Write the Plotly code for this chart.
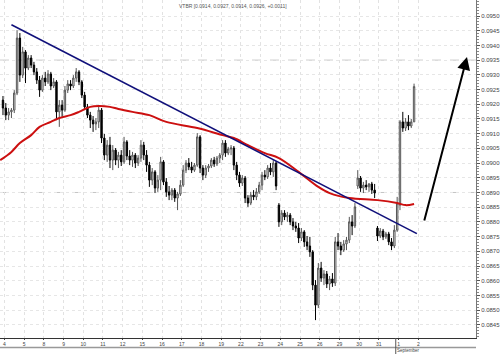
import plotly.graph_objects as go

# Prices in units of 0.00001 (e.g. 9214 -> 0.09214), hourly candles, 7 per trading day
opens = [9214,9187,9163,9174,9180,9238,9425, 9299,9378,9323,9357,9333,9310,9282,
         9248,9289,9276,9303,9262,9276,9174, 9197,9180,9248,9269,9262,9289,9310,
         9276,9231,9191,9163,9146,9133,9140, 9180,9085,9027,9061,9010,9044,9010,
         9027,9004,9072,9024,9010,9027,9000, 9017,9061,9027,8993,8942,8970,8915,
         8942,9004,8936,8902,8891,8908,8881, 8895,8925,8976,9000,8987,8976,8993,
         9089,8983,8959,8983,8990,9010,8997, 9017,9027,9068,9034,9048,9051,8993,
         8959,8932,8949,8881,8864,8891,8885, 8902,8925,8959,8953,8983,8970,9000,
         8857,8800,8830,8817,8823,8800,8786, 8779,8745,8766,8732,8718,8698,8585,
         8517,8643,8609,8623,8589,8606,8592, 8732,8718,8704,8725,8738,8800,8786,
         8922,8949,8915,8925,8919,8929,8908, 8779,8752,8769,8749,8759,8732,8718,
         8772,8857,9140,9119,9140,9126,9140]
highs = [9228,9204,9187,9187,9248,9452,9442, 9395,9384,9367,9367,9344,9323,9296,
         9299,9310,9316,9310,9289,9282,9214, 9214,9262,9282,9282,9299,9323,9316,
         9282,9242,9201,9174,9160,9153,9194, 9187,9099,9078,9089,9061,9051,9038,
         9044,9089,9078,9044,9038,9034,9027, 9078,9072,9044,9004,8983,8976,8959,
         9021,9010,8949,8922,8915,8915,8902, 8942,8993,9010,9017,9004,9000,9102,
         9095,8993,8993,8997,9017,9021,9024, 9034,9078,9078,9055,9061,9058,9004,
         8970,8959,8956,8891,8902,8908,8915, 8936,8970,8976,8993,9000,9010,9007,
         8864,8840,8840,8834,8830,8813,8800, 8796,8779,8772,8752,8749,8704,8602,
         8660,8664,8636,8633,8616,8626,8749, 8762,8732,8738,8749,8817,8823,8864,
         8976,8956,8936,8942,8932,8936,8929, 8786,8779,8776,8766,8766,8745,8789,
         8885,9146,9174,9153,9163,9150,9270]
lows = [9163,9146,9146,9153,9170,9231,9276, 9289,9272,9316,9323,9299,9269,9225,
        9242,9262,9269,9248,9255,9146,9123, 9157,9174,9238,9248,9255,9276,9265,
        9221,9180,9153,9119,9106,9112,9119, 9068,9010,9004,8983,8976,8993,8983,
        8990,8997,9010,8993,8987,8983,8990, 9004,9010,8970,8919,8925,8898,8902,
        8908,8925,8885,8874,8874,8868,8840, 8888,8919,8966,8976,8966,8970,8987,
        8966,8942,8949,8970,8983,8987,8990, 9000,9010,9021,9027,9027,8976,8942,
        8919,8922,8864,8851,8857,8874,8874, 8895,8908,8942,8946,8959,8953,8908,
        8783,8789,8806,8800,8789,8772,8766, 8728,8735,8715,8704,8681,8568,8466,
        8507,8596,8585,8575,8568,8579,8582, 8704,8687,8698,8704,8728,8755,8779,
        8912,8902,8898,8908,8902,8895,8881, 8735,8745,8738,8742,8721,8704,8711,
        8766,8840,9106,9109,9112,9119,9140]
closes = [9187,9163,9174,9180,9238,9425,9299, 9378,9323,9357,9333,9310,9282,9248,
          9289,9276,9303,9262,9276,9174,9197, 9180,9248,9269,9262,9289,9310,9276,
          9231,9191,9163,9146,9133,9140,9180, 9085,9027,9061,9010,9044,9010,9027,
          9004,9072,9024,9010,9027,9000,9017, 9061,9027,8993,8942,8970,8915,8942,
          9004,8936,8902,8891,8908,8881,8895, 8925,8976,9000,8987,8976,8993,9089,
          8983,8959,8983,8990,9010,8997,9017, 9027,9068,9034,9048,9051,8993,8959,
          8932,8949,8881,8864,8891,8885,8902, 8925,8959,8953,8983,8970,9000,8922,
          8800,8830,8817,8823,8800,8786,8779, 8745,8766,8732,8718,8698,8585,8517,
          8643,8609,8623,8589,8606,8592,8732, 8718,8704,8725,8738,8800,8786,8851,
          8949,8915,8925,8919,8929,8908,8898, 8752,8769,8749,8759,8732,8718,8772,
          8864,9140,9119,9140,9126,9140,9260]

# moving average (red) read at selected candle indices
ma_idx = [-1, 3, 6, 10, 13, 17, 20, 24, 27, 31, 34, 38, 41, 46, 52, 58, 69, 78, 82,
          87, 93, 98, 105, 112, 116, 123, 133, 140, 143, 146]
ma_val = [9010, 9038, 9068, 9095, 9123, 9140, 9153, 9163, 9174, 9191, 9194, 9191, 9184,
          9174, 9163, 9140, 9119, 9095, 9085, 9061, 9034, 9017, 8970, 8919, 8898, 8881,
          8874, 8864, 8857, 8861]

# trend line (blue) end points
trend_idx = [3, 147]
trend_val = [9470, 8760]

# arrow (tail -> head)
arrow_idx = [149.5, 164.8]
arrow_val = [8800, 9361]

days = ["4", "5", "8", "9", "10", "11", "12", "15", "16", "17", "18", "19", "22",
        "23", "24", "25", "26", "29", "30", "31", "1", "2"]
per_day = 7
title_text = "VTBR [0.0914, 0.0927, 0.0914, 0.0926, +0.0011]"
month_text = "September"

S = 1e-5
x = list(range(len(closes)))

fig = go.Figure()
fig.add_trace(go.Candlestick(
    x=x, open=[v * S for v in opens], high=[v * S for v in highs],
    low=[v * S for v in lows], close=[v * S for v in closes],
    increasing=dict(fillcolor="white", line=dict(color="#555555", width=1)),
    decreasing=dict(fillcolor="black", line=dict(color="black", width=1)),
    whiskerwidth=0, showlegend=False, hoverinfo="skip"))
fig.add_trace(go.Scatter(x=ma_idx, y=[v * S for v in ma_val], mode="lines",
                         line=dict(color="#cc1010", width=2, shape="spline"),
                         showlegend=False, hoverinfo="skip"))
fig.add_trace(go.Scatter(x=trend_idx, y=[v * S for v in trend_val], mode="lines",
                         line=dict(color="#10107a", width=1.6),
                         showlegend=False, hoverinfo="skip"))

fig.add_annotation(x=arrow_idx[1], y=arrow_val[1] * S, ax=arrow_idx[0], ay=arrow_val[0] * S,
                   xref="x", yref="y", axref="x", ayref="y", showarrow=True,
                   arrowhead=2, arrowsize=1.3, arrowwidth=2, arrowcolor="black", text="")

fig.add_annotation(x=0.49, y=0.997, xref="paper", yref="paper", text=title_text,
                   showarrow=False, xanchor="center", yanchor="top",
                   font=dict(size=5, color="#555555", family="Liberation Sans"))

PLOT_H = 338
# lower band line and month label
fig.add_shape(type="line", xref="paper", yref="paper", x0=0, x1=1,
              y0=-9.5 / PLOT_H, y1=-9.5 / PLOT_H, line=dict(color="#999999", width=1.5))
fig.add_shape(type="line", xref="x", yref="paper", x0=20 * per_day - 0.5, x1=20 * per_day - 0.5,
              y0=0, y1=-16 / PLOT_H, line=dict(color="#555555", width=1))
fig.add_annotation(x=20 * per_day - 0.3, y=-16 / PLOT_H, xref="x", yref="paper", text=month_text,
                   showarrow=False, xanchor="left", yanchor="bottom", borderpad=0,
                   font=dict(size=4.5, color="#444444", family="Liberation Sans"))

for lvl in [0.0935, 0.0890]:
    fig.add_shape(type="line", xref="paper", yref="y", x0=0, x1=1, y0=lvl, y1=lvl,
                  line=dict(color="#c4c4c4", width=1, dash="dash"), layer="below")

ytv = [round(0.0845 + 0.0005 * k, 4) for k in range(22)]
fig.update_layout(
    width=500, height=354, margin=dict(l=0, r=20, t=0, b=16),
    paper_bgcolor="white", plot_bgcolor="white",
    xaxis=dict(range=[-1.06, 168], rangeslider=dict(visible=False),
               tickmode="array", tickvals=[k * per_day + 0.5 for k in range(len(days))],
               ticktext=days, ticks="outside", ticklen=1, tickcolor="#444",
               tickfont=dict(size=5, color="#444444", family="Liberation Sans"),
               showline=True, linecolor="#333333", linewidth=1, mirror=False,
               showgrid=True, gridcolor="#e2e2e2", griddash="dot", zeroline=False),
    yaxis=dict(range=[0.084052, 0.095544], side="right", tickmode="array",
               tickvals=ytv, ticktext=[f"{v:.4f}" for v in ytv],
               ticks="outside", ticklen=3, tickcolor="#555",
               tickfont=dict(size=6, color="#444444", family="Liberation Sans"),
               showline=True, linecolor="#777777", linewidth=1,
               minor=dict(dtick=0.0001, ticks="outside", ticklen=2, tickcolor="#888", showgrid=False),
               showgrid=True, gridcolor="#e6e6e6", griddash="dot", zeroline=False),
)

fig.write_html("out.html")
